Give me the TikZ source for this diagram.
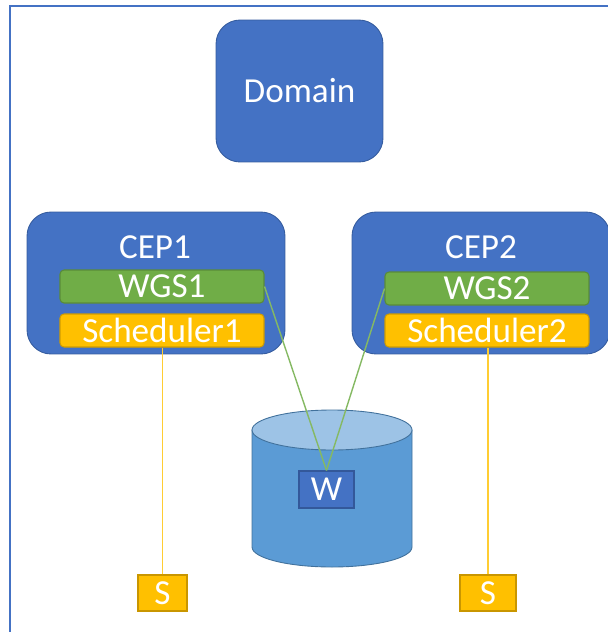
\documentclass[tikz,border=0pt]{standalone}
\usepackage{fontspec}
\setmainfont{Carlito}
\definecolor{blue1}{HTML}{4472C4}
\definecolor{blue2}{HTML}{5B9BD5}
\definecolor{blue3}{HTML}{9DC3E6}
\definecolor{edgeblue}{HTML}{2F528F}
\definecolor{edgecyl}{HTML}{41719C}
\definecolor{green1}{HTML}{70AD47}
\definecolor{edgegreen}{HTML}{507E32}
\definecolor{orange1}{HTML}{FFC000}
\definecolor{edgeorange}{HTML}{BC8C00}
\tikzset{
	label/.style={text=white,font=\fontsize{20}{22}\selectfont,inner sep=0pt},
	server/.style={label,draw=edgeblue!70!blue1,fill=blue1,line width=0.5pt,rounded corners=0.48cm},
	bar/.style={label,line width=0.6pt,rounded corners=0.08cm,minimum width=4.08cm,minimum height=0.66cm},
	wgs/.style={bar,draw=edgegreen!70!green1,fill=green1},
	sched/.style={bar,draw=edgeorange!70!orange1,fill=orange1},
	small/.style={label,line width=0.9pt,minimum height=0.73cm},
	wlink/.style={green1!85!white,line width=0.8pt},
	slink/.style={orange1!80!white,line width=1pt},
}
\begin{document}
\begin{tikzpicture}[x=0.02cm,y=-0.02cm]
	\useasboundingbox (0,0) rectangle (608,632);
	% frame
	\draw[blue1,line width=1.4pt] (10,632) -- (10,6) -- (608,6);
	% boxes
	\node[server,minimum width=3.34cm,minimum height=2.84cm] at (299.5,91) (domain) {Domain};
	\node[server,minimum width=5.16cm,minimum height=2.84cm] at (156,283) (cep1) {};
	\node[server,minimum width=5.16cm,minimum height=2.84cm] at (481,283) (cep2) {};
	\node[label] at (155,247) (cep1text) {CEP1};
	\node[label] at (481,247) (cep2text) {CEP2};
	\node[wgs] at (162,286.5) (wgs1) {WGS1};
	\node[wgs] at (487,288.5) (wgs2) {WGS2};
	\node[sched] at (162,330.5) (sched1) {Scheduler1};
	\node[sched] at (487,330.5) (sched2) {Scheduler2};
	% store
	\draw[edgecyl,fill=blue2,line width=0.5pt] (252,430) -- (252,547) arc[start angle=180,end angle=0,x radius=80,y radius=20] -- (412,430) -- cycle;
	\draw[edgecyl,fill=blue3,line width=0.5pt] (332,430) ellipse[x radius=80,y radius=20];
	\node[small,draw=edgeblue!80!blue1,fill=blue1,minimum width=1.1cm] at (326.5,489.5) (w) {W};
	\node[small,draw=edgeorange!80!orange1,fill=orange1,minimum width=0.98cm] at (162.5,593) (s1) {S};
	\node[small,draw=edgeorange!80!orange1,fill=orange1,minimum width=1.12cm] at (488,593) (s2) {S};
	% links
	\draw[wlink] (wgs1.east) -- (w.north);
	\draw[wlink] (wgs2.west) -- (w.north);
	\draw[slink] (s1.north |- sched1.south) -- (s1.north);
	\draw[slink] (s2.north |- sched2.south) -- (s2.north);
\end{tikzpicture}
\end{document}
